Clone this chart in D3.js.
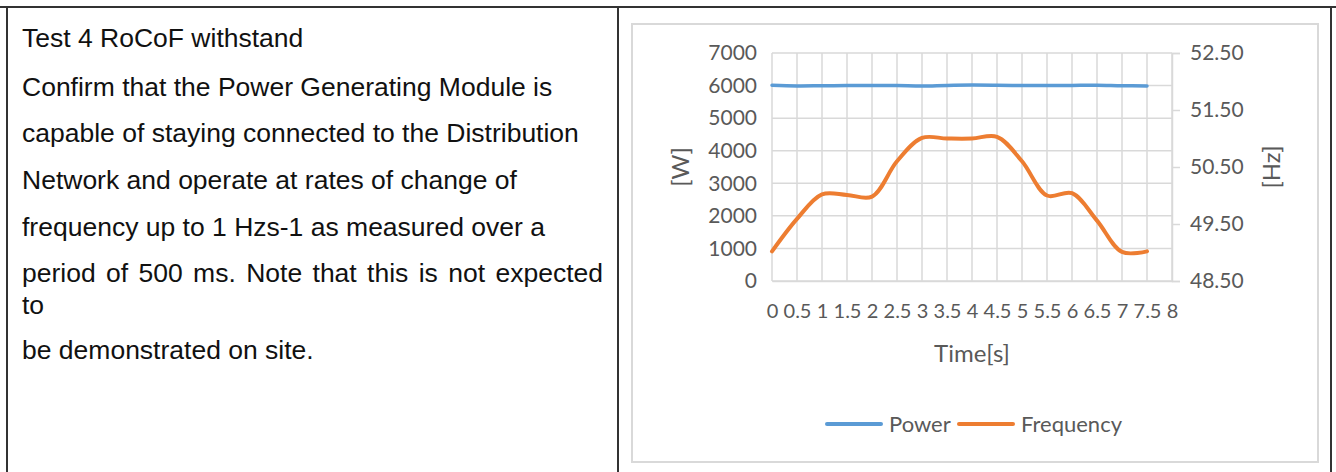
<!DOCTYPE html>
<html>
<head>
<meta charset="utf-8">
<script src="https://cdn.jsdelivr.net/npm/d3@7"></script>
<style>
  html, body { margin: 0; padding: 0; background: #fff; }
  svg { display: block; }
</style>
</head>
<body>
<svg id="c" width="1336" height="472"></svg>
<script>
// ---- data ----
const time = [0, 0.5, 1, 1.5, 2, 2.5, 3, 3.5, 4, 4.5, 5, 5.5, 6, 6.5, 7, 7.5];
const power = [6010, 5990, 5995, 6000, 6000, 6000, 5985, 6005, 6015, 6010, 6000, 6000, 6005, 6010, 5995, 5990];
const frequency = [49.02, 49.59, 50.02, 50.01, 49.98, 50.60, 51.01, 51.00, 51.00, 51.03, 50.60, 50.00, 50.04, 49.56, 49.01, 49.02];
const xTickLabels = [0, 0.5, 1, 1.5, 2, 2.5, 3, 3.5, 4, 4.5, 5, 5.5, 6, 6.5, 7, 7.5, 8];
const leftTicks = [0, 1000, 2000, 3000, 4000, 5000, 6000, 7000];
const rightTicks = [48.5, 49.5, 50.5, 51.5, 52.5];
const seriesNames = ["Power", "Frequency"];
const textLines = [
  "Test 4 RoCoF withstand",
  "Confirm that the Power Generating Module is",
  "capable of staying connected to the Distribution",
  "Network and operate at rates of change of",
  "frequency up to 1 Hzs-1 as measured over a",
  "period of 500 ms. Note that this is not expected",
  "to",
  "be demonstrated on site."
];

// ---- layout ----
const svg = d3.select("#c");
const gray = "#595959";
const gridC = "#d9d9d9";
const chartFont = "Lato, 'Open Sans', sans-serif";
const plot = {x0: 772, x1: 1172, y0: 53, y1: 281};

// table borders
const tbl = svg.append("g").attr("stroke", "#333").attr("stroke-width", 2);
tbl.append("line").attr("x1", 0).attr("x2", 1336).attr("y1", 7).attr("y2", 7);
tbl.append("line").attr("x1", 7).attr("x2", 7).attr("y1", 7).attr("y2", 472);
tbl.append("line").attr("x1", 618).attr("x2", 618).attr("y1", 7).attr("y2", 472);
tbl.append("line").attr("x1", 1331).attr("x2", 1331).attr("y1", 7).attr("y2", 472);

// left text
const baselines = [47, 96, 142, 189, 236, 282, 314, 359];
const tg = svg.append("g").attr("font-family", "'Liberation Sans', Arial, sans-serif")
  .attr("font-size", 26.5).attr("fill", "#111");
textLines.forEach((t, i) => {
  if (i === 5) {
    // justified line
    const words = t.split(" ");
    const temp = words.map(w => tg.append("text").attr("y", baselines[i]).text(w));
    const widths = temp.map(s => s.node().getComputedTextLength());
    const total = d3.sum(widths);
    const x0 = 22, x1 = 603;
    const gap = (x1 - x0 - total) / (words.length - 1);
    let x = x0;
    temp.forEach((s, k) => { s.attr("x", x); x += widths[k] + gap; });
  } else {
    tg.append("text").attr("x", 22).attr("y", baselines[i]).text(t);
  }
});

// chart box
svg.append("rect").attr("x", 632).attr("y", 24).attr("width", 686).attr("height", 438)
  .attr("fill", "none").attr("stroke", gridC).attr("stroke-width", 2);

// scales
const x = d3.scaleLinear().domain([0, 8]).range([plot.x0, plot.x1]);
const yL = d3.scaleLinear().domain([0, 7000]).range([plot.y1, plot.y0]);
const yR = d3.scaleLinear().domain([48.5, 52.5]).range([plot.y1, plot.y0]);

// grid
const grid = svg.append("g").attr("stroke", gridC).attr("stroke-width", 1.5);
xTickLabels.forEach(v => grid.append("line")
  .attr("x1", x(v)).attr("x2", x(v)).attr("y1", plot.y0).attr("y2", plot.y1));
leftTicks.forEach(v => grid.append("line")
  .attr("x1", plot.x0).attr("x2", plot.x1).attr("y1", yL(v)).attr("y2", yL(v)));

// left axis
const axL = svg.append("g").attr("transform", `translate(${plot.x0 - 15},0)`)
  .call(d3.axisLeft(yL).tickValues(leftTicks).tickSize(0).tickPadding(0).tickFormat(d3.format("d")));
axL.select(".domain").remove();
axL.selectAll("text").attr("font-family", chartFont).attr("font-size", 21).attr("fill", gray);

// right axis
const axR = svg.append("g").attr("transform", `translate(${plot.x1},0)`)
  .call(d3.axisRight(yR).tickValues(rightTicks).tickSize(8).tickPadding(10).tickFormat(d3.format(".2f")));
axR.select(".domain").attr("stroke", gridC).attr("stroke-width", 1.5);
axR.selectAll(".tick line").attr("stroke", gridC).attr("stroke-width", 1.5);
axR.selectAll("text").attr("font-family", chartFont).attr("font-size", 21).attr("fill", gray);

// bottom axis
const axB = svg.append("g").attr("transform", `translate(0,${plot.y1})`)
  .call(d3.axisBottom(x).tickValues(xTickLabels).tickSize(0).tickPadding(23).tickFormat(d => String(d)));
axB.select(".domain").attr("stroke", gridC).attr("stroke-width", 1.5);
axB.selectAll("text").attr("font-family", chartFont).attr("font-size", 20).attr("fill", gray);

// axis titles
svg.append("text").attr("transform", `translate(689,${(plot.y0 + plot.y1) / 2}) rotate(-90)`)
  .attr("text-anchor", "middle").attr("font-family", chartFont).attr("font-size", 24)
  .attr("fill", gray).text("[W]");
svg.append("text").attr("transform", `translate(1280,${(plot.y0 + plot.y1) / 2}) rotate(-90)`)
  .attr("text-anchor", "middle").attr("font-family", chartFont).attr("font-size", 24)
  .attr("fill", gray).text("[Hz]");
svg.append("text").attr("x", (plot.x0 + plot.x1) / 2).attr("y", 362)
  .attr("text-anchor", "middle").attr("font-family", chartFont).attr("font-size", 24)
  .attr("fill", gray).text("Time[s]");

// lines
const curve = d3.curveCatmullRom.alpha(0.5);
const lineP = d3.line().x((d, i) => x(time[i])).y(d => yL(d)).curve(curve);
const lineF = d3.line().x((d, i) => x(time[i])).y(d => yR(d)).curve(curve);
svg.append("path").attr("d", lineP(power)).attr("fill", "none")
  .attr("stroke", "#5b9bd5").attr("stroke-width", 3.5).attr("stroke-linecap", "round");
svg.append("path").attr("d", lineF(frequency)).attr("fill", "none")
  .attr("stroke", "#ed7d31").attr("stroke-width", 4).attr("stroke-linecap", "round");

// legend
const colors = ["#5b9bd5", "#ed7d31"];
const lg = svg.append("g").attr("font-family", chartFont).attr("font-size", 22).attr("fill", gray);
const legX = [827, 959];
seriesNames.forEach((n, i) => {
  lg.append("line").attr("x1", legX[i]).attr("x2", legX[i] + 54).attr("y1", 424).attr("y2", 424)
    .attr("stroke", colors[i]).attr("stroke-width", 4).attr("stroke-linecap", "round");
  lg.append("text").attr("x", legX[i] + 62).attr("y", 432).text(n);
});
</script>
</body>
</html>
